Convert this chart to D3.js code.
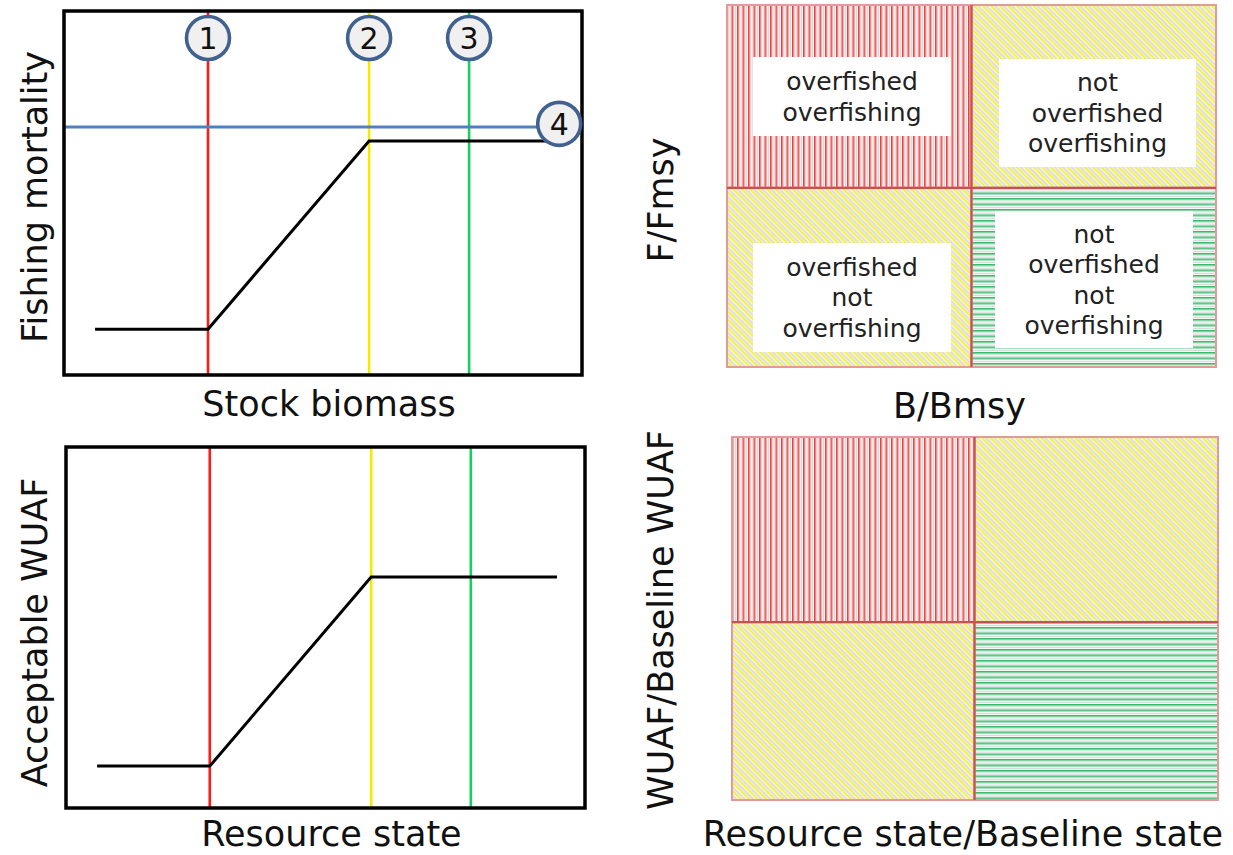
<!DOCTYPE html>
<html><head><meta charset="utf-8">
<script src="https://cdn.jsdelivr.net/npm/d3@7"></script>
<style>body{margin:0;background:#fff}svg{display:block}</style>
</head><body>
<script>
// ---------- data ----------
const refLabels = ["1", "2", "3"];
const refColors = ["#ff1a1a", "#f2ea00", "#19cf5f"];
const refXTop = [27.8, 58.9, 78.2];
const refXBottom = [27.7, 58.8, 78.0];
const hcrXTop = [6.0, 27.8, 58.9, 93.4];
const hcrYTop = [12.6, 12.6, 64.3, 64.3];
const hcrXBottom = [6.0, 27.7, 58.8, 94.6];
const hcrYBottom = [11.6, 11.6, 64.0, 64.0];
const fLimitY = 68.1;          // reference point 4 (horizontal)
const fLimitLabel = "4";
const quadLabels = [
  ["overfished", "overfishing"],
  ["not", "overfished", "overfishing"],
  ["overfished", "not", "overfishing"],
  ["not", "overfished", "not", "overfishing"]
];
const quadPatterns = ["pRed", "pYel", "pYel", "pGrn"];
const axisLabels = {
  tlx: "Stock biomass", tly: "Fishing mortality",
  blx: "Resource state", bly: "Acceptable WUAF",
  trx: "B/Bmsy", try_: "F/Fmsy",
  brx: "Resource state/Baseline state", bry: "WUAF/Baseline WUAF"
};

const W = 1233, H = 855;
const FONT = "DejaVu Sans, Verdana, sans-serif";
const LFS = 35;
const svg = d3.select("body").append("svg").attr("width", W).attr("height", H);
const defs = svg.append("defs");

// patterns
const pr = defs.append("pattern").attr("id", "pRed").attr("patternUnits", "userSpaceOnUse").attr("width", 5.5).attr("height", 10);
pr.append("rect").attr("width", 5.5).attr("height", 10).attr("fill", "#fff");
pr.append("rect").attr("x", 0).attr("width", 1.6).attr("height", 10).attr("fill", "#ee3c3c");
pr.append("rect").attr("x", 1.6).attr("width", 0.9).attr("height", 10).attr("fill", "#f7a8a8");
pr.append("rect").attr("x", 3.6).attr("width", 1.1).attr("height", 10).attr("fill", "#d6d6d6");

const pg = defs.append("pattern").attr("id", "pGrn").attr("patternUnits", "userSpaceOnUse").attr("width", 10).attr("height", 5.5);
pg.append("rect").attr("width", 10).attr("height", 5.5).attr("fill", "#fff");
pg.append("rect").attr("y", 0).attr("height", 1.6).attr("width", 10).attr("fill", "#36b96a");
pg.append("rect").attr("y", 1.6).attr("height", 0.9).attr("width", 10).attr("fill", "#a6dfbd");
pg.append("rect").attr("y", 3.6).attr("height", 1.1).attr("width", 10).attr("fill", "#d6d6d6");

const py = defs.append("pattern").attr("id", "pYel").attr("patternUnits", "userSpaceOnUse")
  .attr("width", 6).attr("height", 10).attr("patternTransform", "rotate(-45)");
py.append("rect").attr("width", 6).attr("height", 10).attr("fill", "#fcfcfc");
py.append("rect").attr("x", 0).attr("width", 1.6).attr("height", 10).attr("fill", "#f3ee2a");
py.append("rect").attr("x", 2.5).attr("width", 1.9).attr("height", 10).attr("fill", "#d8d8d8");
py.append("rect").attr("x", 4.8).attr("width", 0.7).attr("height", 10).attr("fill", "#f7f490");

// ---------- left panels ----------
function hcrPanel(box, refX, hx, hy, withCircles, xl, yl, xlY, ylOff) {
  const x = d3.scaleLinear().domain([0, 100]).range([box.x0, box.x1]);
  const y = d3.scaleLinear().domain([0, 100]).range([box.y1, box.y0]);
  const g = svg.append("g");
  g.append("rect").attr("x", box.x0).attr("y", box.y0).attr("width", box.x1 - box.x0).attr("height", box.y1 - box.y0)
    .attr("fill", "#fff");
  g.selectAll("line.ref").data(refX).join("line").attr("class", "ref")
    .attr("x1", d => x(d)).attr("x2", d => x(d))
    .attr("y1", y(100)).attr("y2", y(0))
    .attr("stroke", (d, i) => refColors[i]).attr("stroke-width", 2.6);
  const pts = hx.map((v, i) => [v, hy[i]]);
  if (withCircles) {
    g.append("line").attr("x1", x(0)).attr("x2", x(94)).attr("y1", y(fLimitY)).attr("y2", y(fLimitY))
      .attr("stroke", "#4f81bd").attr("stroke-width", 3);
  }
  g.append("path").datum(pts).attr("d", d3.line().x(d => x(d[0])).y(d => y(d[1])))
    .attr("fill", "none").attr("stroke", "#000").attr("stroke-width", 3);
  g.append("rect").attr("x", box.x0).attr("y", box.y0).attr("width", box.x1 - box.x0).attr("height", box.y1 - box.y0)
    .attr("fill", "none").attr("stroke", "#000").attr("stroke-width", 3.5);
  if (withCircles) {
    const cs = refX.map((v, i) => ({ cx: x(v), cy: y(92.6), t: refLabels[i] }));
    cs.push({ cx: x(95.6), cy: y(69.0), t: fLimitLabel });
    const cg = g.selectAll("g.c").data(cs).join("g").attr("transform", d => `translate(${d.cx},${d.cy})`);
    cg.append("circle").attr("r", 21.5).attr("fill", "#f0f0f0").attr("stroke", "#41618f").attr("stroke-width", 3.6);
    cg.append("text").text(d => d.t).attr("text-anchor", "middle").attr("dy", "0.36em")
      .attr("font-family", FONT).attr("font-size", 30).attr("fill", "#111");
  }
  svg.append("text").text(xl).attr("x", (box.x0 + box.x1) / 2 + 6).attr("y", xlY)
    .attr("text-anchor", "middle").attr("font-family", FONT).attr("font-size", LFS).attr("fill", "#111");
  svg.append("text").text(yl).attr("transform", `translate(47,${(box.y0 + box.y1) / 2 + ylOff}) rotate(-90)`)
    .attr("text-anchor", "middle").attr("font-family", FONT).attr("font-size", LFS).attr("fill", "#111");
}
hcrPanel({ x0: 64, x1: 582, y0: 11, y1: 375 }, refXTop, hcrXTop, hcrYTop, true, axisLabels.tlx, axisLabels.tly, 416, 4);
hcrPanel({ x0: 66, x1: 585, y0: 447, y1: 808 }, refXBottom, hcrXBottom, hcrYBottom, false, axisLabels.blx, axisLabels.bly, 846, 5);

// ---------- right panels ----------
function quadPanel(box, withText, xl, yl, xlY, ylX, ylY) {
  const x = d3.scaleLinear().domain([0, 2]).range([box.x0, box.x1]);
  const y = d3.scaleLinear().domain([0, 2]).range([box.y1, box.y0]);
  const mid = { x: x(box.mx), y: y(box.my) };
  const cells = [
    { x0: box.x0, x1: mid.x, y0: box.y0, y1: mid.y },
    { x0: mid.x, x1: box.x1, y0: box.y0, y1: mid.y },
    { x0: box.x0, x1: mid.x, y0: mid.y, y1: box.y1 },
    { x0: mid.x, x1: box.x1, y0: mid.y, y1: box.y1 }
  ];
  const g = svg.append("g");
  g.selectAll("rect.q").data(cells).join("rect").attr("class", "q")
    .attr("x", d => d.x0).attr("y", d => d.y0).attr("width", d => d.x1 - d.x0).attr("height", d => d.y1 - d.y0)
    .attr("fill", (d, i) => `url(#${quadPatterns[i]})`)
    .attr("stroke", "#e29a9a").attr("stroke-width", 2);
  g.append("line").attr("x1", mid.x).attr("x2", mid.x).attr("y1", box.y0).attr("y2", box.y1)
    .attr("stroke", "#c85050").attr("stroke-width", 2.2);
  g.append("line").attr("x1", box.x0).attr("x2", box.x1).attr("y1", mid.y).attr("y2", mid.y)
    .attr("stroke", "#c85050").attr("stroke-width", 2.2);
  if (withText) {
    box.tb.forEach((b, i) => {
      g.append("rect").attr("x", b[0]).attr("y", b[1]).attr("width", b[2] - b[0]).attr("height", b[3] - b[1]).attr("fill", "#fff");
      const lines = quadLabels[i];
      const lh = 30.5;
      const cy = (b[1] + b[3]) / 2 - (lines.length - 1) * lh / 2;
      lines.forEach((t, j) => {
        g.append("text").text(t).attr("x", (b[0] + b[2]) / 2).attr("y", cy + j * lh).attr("dy", "0.35em")
          .attr("text-anchor", "middle").attr("font-family", FONT).attr("font-size", 25).attr("fill", "#222");
      });
    });
  }
  svg.append("text").text(xl).attr("x", (box.x0 + box.x1) / 2 - 12).attr("y", xlY)
    .attr("text-anchor", "middle").attr("font-family", FONT).attr("font-size", LFS).attr("fill", "#111");
  svg.append("text").text(yl).attr("transform", `translate(${ylX},${ylY}) rotate(-90)`)
    .attr("text-anchor", "middle").attr("font-family", FONT).attr("font-size", LFS).attr("fill", "#111");
}
quadPanel({ x0: 727, x1: 1216, y0: 5, y1: 367, mx: 1.0, my: 0.99,
  tb: [[753, 57, 951, 136], [999, 59, 1196, 167], [753, 243, 951, 352], [995, 211, 1193, 348]] },
  true, axisLabels.trx, axisLabels.try_, 418, 673, 200);
quadPanel({ x0: 732, x1: 1218, y0: 437, y1: 800, mx: 0.998, my: 0.98 },
  false, axisLabels.brx, axisLabels.bry, 846, 673, 620);
</script>
</body></html>
